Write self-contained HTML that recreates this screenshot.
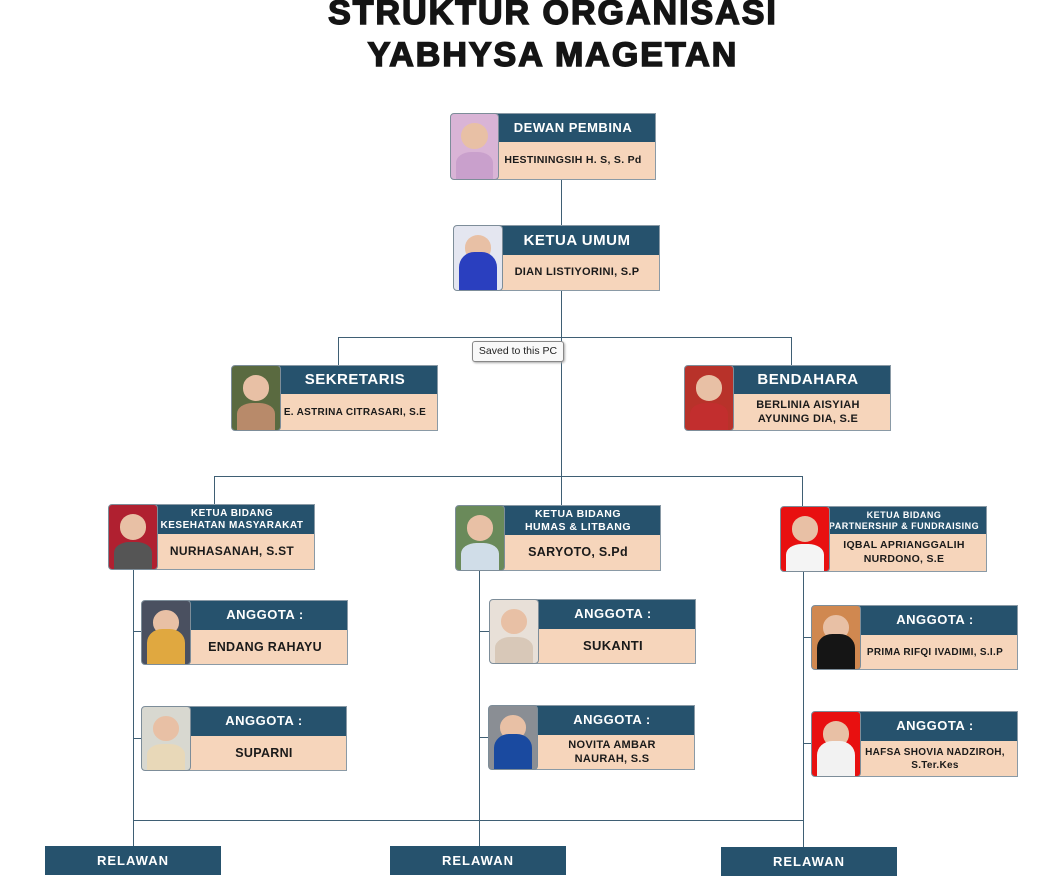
<!DOCTYPE html>
<html><head><meta charset="utf-8"><style>
body{margin:0;width:1045px;height:878px;background:#fff;position:relative;overflow:hidden;font-family:"Liberation Sans",sans-serif;}
.t{position:absolute;left:0;width:1106px;text-align:center;font-weight:900;color:#141414;font-size:34px;letter-spacing:2px;-webkit-text-stroke:1.5px #141414;}
.l{position:absolute;background:#3f5f74;}
.c{position:absolute;border:1px solid #8a9aa6;background:#f6d5bb;box-sizing:border-box;}
.c .h{position:absolute;left:0;right:0;top:0;background:#26526d;color:#fff;font-weight:bold;text-align:center;display:flex;align-items:center;justify-content:center;line-height:1.15;letter-spacing:.5px}
.c .b{position:absolute;left:0;right:0;bottom:0;color:#1a1a1a;font-weight:bold;text-align:center;display:flex;align-items:center;justify-content:center;line-height:1.3;letter-spacing:.3px}
.p{position:absolute;border:1px solid #7d8d99;border-radius:4px;box-sizing:border-box;overflow:hidden}
.p i{position:absolute;left:22%;top:14%;width:56%;height:40%;border-radius:50%;background:#e8c0a5}
.p u{position:absolute;left:10%;bottom:0;width:80%;height:42%;border-radius:40% 40% 0 0}
.r{position:absolute;background:#26526d;color:#fff;font-weight:bold;font-size:13px;text-align:center;line-height:29px;letter-spacing:1px;height:29px;width:176px}
</style></head><body>
<div class="t" style="top:-6px">STRUKTUR ORGANISASI</div>
<div class="t" style="top:36px">YABHYSA MAGETAN</div>

<!-- lines -->
<div class="l" style="left:561px;top:180px;width:1px;height:45px"></div>
<div class="l" style="left:561px;top:291px;width:1px;height:214px"></div>
<div class="l" style="left:338px;top:337px;width:454px;height:1px"></div>
<div class="l" style="left:338px;top:337px;width:1px;height:28px"></div>
<div class="l" style="left:791px;top:337px;width:1px;height:28px"></div>
<div class="l" style="left:214px;top:476px;width:589px;height:1px"></div>
<div class="l" style="left:214px;top:476px;width:1px;height:28px"></div>
<div class="l" style="left:802px;top:476px;width:1px;height:30px"></div>
<div class="l" style="left:133px;top:570px;width:1px;height:276px"></div>
<div class="l" style="left:479px;top:571px;width:1px;height:275px"></div>
<div class="l" style="left:803px;top:572px;width:1px;height:275px"></div>
<div class="l" style="left:133px;top:820px;width:671px;height:1px"></div>
<div class="l" style="left:133px;top:631px;width:9px;height:1px"></div>
<div class="l" style="left:133px;top:738px;width:9px;height:1px"></div>
<div class="l" style="left:479px;top:631px;width:10px;height:1px"></div>
<div class="l" style="left:479px;top:737px;width:10px;height:1px"></div>
<div class="l" style="left:803px;top:637px;width:8px;height:1px"></div>
<div class="l" style="left:803px;top:743px;width:8px;height:1px"></div>

<!-- cards: c left/top/width/height, header height -->
<div class="c" style="left:490px;top:113px;width:166px;height:67px"><div class="h" style="height:28px;font-size:13px">DEWAN PEMBINA</div><div class="b" style="top:28px;font-size:10.5px">HESTININGSIH H. S, S. Pd</div></div>
<div class="p" style="left:450px;top:113px;width:49px;height:67px;background:#d9b4d6"><i></i><u style="background:#c9a0cc"></u></div>

<div class="c" style="left:494px;top:225px;width:166px;height:66px"><div class="h" style="height:29px;font-size:15px">KETUA UMUM</div><div class="b" style="top:29px;font-size:11px">DIAN LISTIYORINI, S.P</div></div>
<div class="p" style="left:453px;top:225px;width:50px;height:66px;background:#e4e6f0"><i></i><u style="background:#2a3fbf;height:60%"></u></div>

<div class="c" style="left:272px;top:365px;width:166px;height:66px"><div class="h" style="height:28px;font-size:15px">SEKRETARIS</div><div class="b" style="top:28px;font-size:10px">E. ASTRINA CITRASARI, S.E</div></div>
<div class="p" style="left:231px;top:365px;width:50px;height:66px;background:#5a6a40"><i></i><u style="background:#b88a6a"></u></div>

<div class="c" style="left:725px;top:365px;width:166px;height:66px"><div class="h" style="height:28px;font-size:15px">BENDAHARA</div><div class="b" style="top:28px;font-size:11px">BERLINIA AISYIAH<br>AYUNING DIA, S.E</div></div>
<div class="p" style="left:684px;top:365px;width:50px;height:66px;background:#b8322a"><i></i><u style="background:#c22e2e"></u></div>

<div class="c" style="left:149px;top:504px;width:166px;height:66px"><div class="h" style="height:29px;font-size:10px">KETUA BIDANG<br>KESEHATAN MASYARAKAT</div><div class="b" style="top:29px;font-size:12px">NURHASANAH, S.ST</div></div>
<div class="p" style="left:108px;top:504px;width:50px;height:66px;background:#b02030"><i></i><u style="background:#555"></u></div>

<div class="c" style="left:495px;top:505px;width:166px;height:66px"><div class="h" style="height:29px;font-size:10.5px">KETUA BIDANG<br>HUMAS &amp; LITBANG</div><div class="b" style="top:29px;font-size:12.5px">SARYOTO, S.Pd</div></div>
<div class="p" style="left:455px;top:505px;width:50px;height:66px;background:#6a8a5a"><i></i><u style="background:#d0dde8"></u></div>

<div class="c" style="left:821px;top:506px;width:166px;height:66px"><div class="h" style="height:27px;font-size:9px">KETUA BIDANG<br>PARTNERSHIP &amp; FUNDRAISING</div><div class="b" style="top:27px;font-size:10.5px">IQBAL APRIANGGALIH<br>NURDONO, S.E</div></div>
<div class="p" style="left:780px;top:506px;width:50px;height:66px;background:#e81010"><i></i><u style="background:#f4f4f4"></u></div>

<div class="c" style="left:182px;top:600px;width:166px;height:65px"><div class="h" style="height:29px;font-size:13px">ANGGOTA :</div><div class="b" style="top:29px;font-size:12.5px">ENDANG RAHAYU</div></div>
<div class="p" style="left:141px;top:600px;width:50px;height:65px;background:#4a5060"><i></i><u style="background:#e0a840;height:55%"></u></div>

<div class="c" style="left:181px;top:706px;width:166px;height:65px"><div class="h" style="height:29px;font-size:13px">ANGGOTA :</div><div class="b" style="top:29px;font-size:12.5px">SUPARNI</div></div>
<div class="p" style="left:141px;top:706px;width:50px;height:65px;background:#d8d8d0"><i></i><u style="background:#e8d8b8"></u></div>

<div class="c" style="left:530px;top:599px;width:166px;height:65px"><div class="h" style="height:29px;font-size:13px">ANGGOTA :</div><div class="b" style="top:29px;font-size:13px">SUKANTI</div></div>
<div class="p" style="left:489px;top:599px;width:50px;height:65px;background:#e8e0d8"><i></i><u style="background:#d8c8b8"></u></div>

<div class="c" style="left:529px;top:705px;width:166px;height:65px"><div class="h" style="height:29px;font-size:13px">ANGGOTA :</div><div class="b" style="top:29px;font-size:11px">NOVITA AMBAR<br>NAURAH, S.S</div></div>
<div class="p" style="left:488px;top:705px;width:50px;height:65px;background:#8a8e94"><i></i><u style="background:#1a4aa0;height:55%"></u></div>

<div class="c" style="left:852px;top:605px;width:166px;height:65px"><div class="h" style="height:29px;font-size:13px">ANGGOTA :</div><div class="b" style="top:29px;font-size:10px">PRIMA RIFQI IVADIMI, S.I.P</div></div>
<div class="p" style="left:811px;top:605px;width:50px;height:65px;background:#d08850"><i></i><u style="background:#151515;height:55%"></u></div>

<div class="c" style="left:852px;top:711px;width:166px;height:66px"><div class="h" style="height:29px;font-size:13px">ANGGOTA :</div><div class="b" style="top:29px;font-size:10px">HAFSA SHOVIA NADZIROH,<br>S.Ter.Kes</div></div>
<div class="p" style="left:811px;top:711px;width:50px;height:66px;background:#e81010"><i></i><u style="background:#f2f2f2;height:55%"></u></div>

<div class="r" style="left:45px;top:846px">RELAWAN</div>
<div class="r" style="left:390px;top:846px">RELAWAN</div>
<div class="r" style="left:721px;top:847px">RELAWAN</div>

<div style="position:absolute;left:472px;top:341px;width:90px;height:19px;border:1px solid #888;border-radius:3px;background:#f8f8f8;font-size:10.5px;line-height:19px;text-align:center;color:#222;box-shadow:1px 1px 2px #aaa">Saved to this PC</div>
</body></html>
